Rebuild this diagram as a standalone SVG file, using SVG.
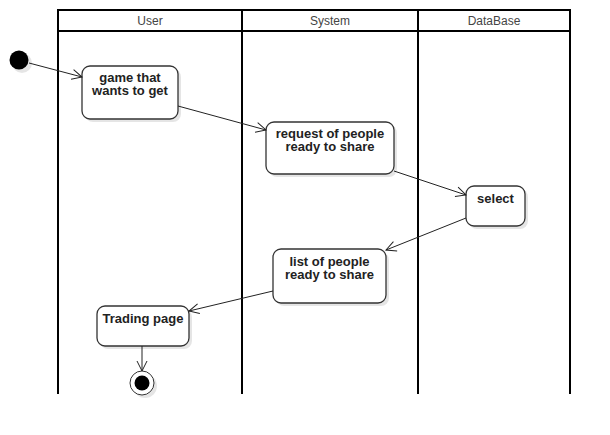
<svg xmlns="http://www.w3.org/2000/svg" width="610" height="435" viewBox="0 0 610 435">
<style>
.lane{fill:none;stroke:#000;stroke-width:2}
.hd{font-family:"Liberation Sans",Arial,sans-serif;font-size:12px;fill:#444;text-anchor:middle}
.node{fill:#fff;stroke:#333;stroke-width:1.3}
.sh{fill:#000;opacity:0.1}
.lbl{font-family:"Liberation Sans",Arial,sans-serif;font-size:13px;font-weight:bold;fill:#222;text-anchor:middle}
.edge{fill:none;stroke:#222;stroke-width:1;marker-end:url(#open)}
</style>
<defs>
<marker id="open" viewBox="0 0 12 12" refX="11" refY="6" markerWidth="12" markerHeight="12" markerUnits="userSpaceOnUse" orient="auto">
<path d="M1,1 L11,6 L1,11" fill="none" stroke="#222" stroke-width="1"/>
</marker>
</defs>
<rect width="610" height="435" fill="#fff"/>
<g id="lanes">
<path class="lane" d="M58,394 V10 H570 V394 M58,31 H570 M242,10 V394 M418,10 V394"/>
<text class="hd" x="150" y="25">User</text>
<text class="hd" x="330" y="25">System</text>
<text class="hd" x="494" y="25">DataBase</text>
</g>
<g id="start">
<circle class="sh" cx="22" cy="63" r="10"/>
<circle cx="19" cy="60" r="9.5" fill="#000"/>
</g>
<g id="n1">
<rect class="sh" x="85" y="69" width="96" height="53" rx="8"/>
<rect class="node" x="82" y="66" width="96" height="53" rx="8"/>
<text class="lbl" x="130" y="82">game that</text>
<text class="lbl" x="130" y="95">wants to get</text>
</g>
<g id="n2">
<rect class="sh" x="269" y="125" width="128" height="52" rx="8"/>
<rect class="node" x="266" y="122" width="128" height="52" rx="8"/>
<text class="lbl" x="330" y="138">request of people</text>
<text class="lbl" x="330" y="151">ready to share</text>
</g>
<g id="n3">
<rect class="sh" x="469" y="189" width="59" height="40" rx="8"/>
<rect class="node" x="466" y="186" width="59" height="40" rx="8"/>
<text class="lbl" x="495.5" y="203">select</text>
</g>
<g id="n4">
<rect class="sh" x="276" y="252" width="113" height="54" rx="8"/>
<rect class="node" x="273" y="249" width="113" height="54" rx="8"/>
<text class="lbl" x="329.5" y="266">list of people</text>
<text class="lbl" x="329.5" y="279">ready to share</text>
</g>
<g id="n5">
<rect class="sh" x="100" y="309" width="92" height="40" rx="8"/>
<rect class="node" x="97" y="306" width="92" height="40" rx="8"/>
<text class="lbl" x="143" y="323">Trading page</text>
</g>
<g id="end">
<circle class="sh" cx="145" cy="386" r="12"/>
<circle cx="142" cy="383" r="12" fill="#fff" stroke="#333" stroke-width="1"/>
<circle cx="142" cy="383" r="7.5" fill="#000"/>
</g>
<g id="connectors">
<path class="edge" d="M29,63 L82,77"/>
<path class="edge" d="M178,106 L266,130"/>
<path class="edge" d="M394,171 L466,195"/>
<path class="edge" d="M466,218 L386,250"/>
<path class="edge" d="M273,291 L189,311"/>
<path class="edge" d="M142,346 L142,371"/>
</g>
</svg>
